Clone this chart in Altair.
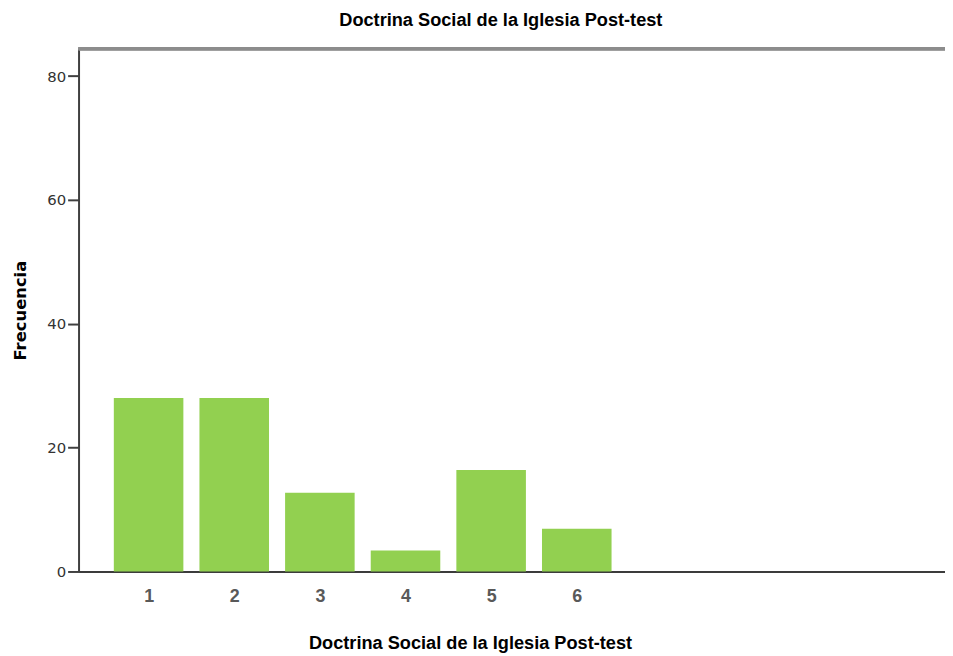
import altair as alt
import pandas as pd

categories = [1, 2, 3, 4, 5, 6]
frequencies = [28, 28, 12.7, 3.4, 16.4, 6.9]
y_ticks = [0, 20, 40, 60, 80]
title_text = "Doctrina Social de la Iglesia Post-test"
y_title = "Frecuencia"

df = pd.DataFrame({"cat": categories, "freq": frequencies})

W, H = 872, 526
SANS = "Liberation Sans, Arial, sans-serif"

bars = alt.Chart(df).mark_bar(color="#92d050", size=70).encode(
    x=alt.X(
        "cat:Q",
        scale=alt.Scale(domain=[0.182, 10.30], nice=False, zero=False, padding=0),
        axis=alt.Axis(
            values=categories, title=title_text, ticks=False, tickSize=0, grid=False,
            labelFont=SANS, labelFontSize=18, labelFontWeight="bold",
            labelColor="#595959", labelPadding=16,
            domainColor="#000000", domainWidth=1.5,
            titleFont=SANS, titleFontSize=18.3, titleFontWeight="bold",
            titleColor="#000000", titleX=394, titleY=78, titleBaseline="alphabetic",
        ),
    ),
    y=alt.Y(
        "freq:Q",
        scale=alt.Scale(domain=[0, 84.4], nice=False, padding=0),
        axis=alt.Axis(
            values=y_ticks, title=y_title, grid=False,
            domainColor="#404040", domainWidth=2,
            tickColor="#404040", tickWidth=2, tickSize=11,
            labelFont="DejaVu Sans", labelFontSize=15, labelColor="#333333",
            labelPadding=2,
            titleFont="DejaVu Sans", titleFontSize=16.5, titleFontWeight="bold",
            titleColor="#000000", titleX=-50, titleBaseline="bottom",
        ),
    ),
)

top_border = alt.Chart(df).mark_rule(color="#8c8c8c", strokeWidth=3).encode(
    x=alt.value(0), x2=alt.value(W), y=alt.value(0)
)

chart = (
    alt.layer(bars, top_border)
    .properties(
        width=W,
        height=H,
        title=alt.TitleParams(
            text=title_text, font=SANS, fontSize=18.3, fontWeight="bold",
            color="#000000", anchor="middle", frame="group",
            baseline="top", offset=17, dx=-11,
        ),
        autosize=alt.AutoSizeParams(type="none"),
        padding={"left": 71, "top": 39, "right": 0, "bottom": 83},
    )
    .configure_view(stroke=None)
    .configure(background="#ffffff")
)

chart.save("out.html", embed_options={"renderer": "svg", "actions": False})
